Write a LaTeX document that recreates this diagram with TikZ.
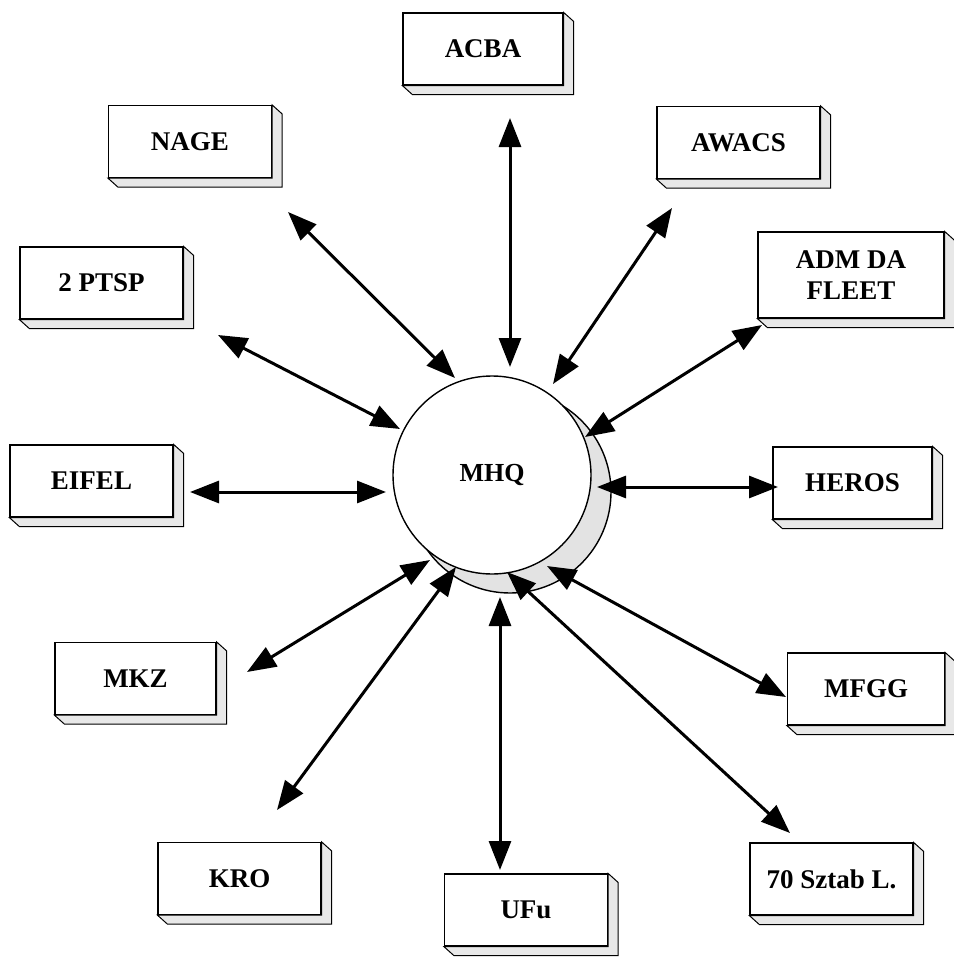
\documentclass[tikz,border=0pt]{standalone}
\usepackage{fontspec}
\setmainfont{Liberation Serif}
\usetikzlibrary{arrows.meta}

\begin{document}
\begin{tikzpicture}[x=1pt,y=-1pt,
  unitbox/.style={draw, line width=1.2pt, fill=white, minimum width=163pt,
    minimum height=72pt, inner sep=2pt, align=center,
    font=\fontsize{27}{31}\selectfont\bfseries},
  sideface/.style={draw, line width=1pt, fill=gray!18},
  link/.style={line width=3pt, {Triangle[length=29pt,width=22pt]}-{Triangle[length=29pt,width=22pt]}},
  hub/.style={draw, line width=1.4pt, fill=white, circle, minimum size=198pt,
    inner sep=0pt, font=\fontsize{26}{30}\selectfont\bfseries}]

\useasboundingbox (0,0) rectangle (953,966);

% shaded crescent behind the hub
\draw[line width=1.4pt, fill=gray!22] (510,492) circle[radius=101];
\node[hub] (mhq) at (492,475) {MHQ};

% outer units
\node[unitbox, minimum width=160pt] (acba) at (483,49) {ACBA};
\node[unitbox] (nage)  at (190,141.5) {NAGE};
\node[unitbox] (awacs) at (738.5,142.5) {AWACS};
\node[unitbox] (ptsp)  at (101.5,283) {2 PTSP};
\node[unitbox, minimum width=186pt, minimum height=86pt] (adm) at (851,275) {ADM DA\\FLEET};
\node[unitbox] (eifel) at (91.5,481) {EIFEL};
\node[unitbox, minimum width=159pt] (heros) at (852.5,483) {HEROS};
\node[unitbox, minimum width=161pt] (mkz)   at (135.5,678.5) {MKZ};
\node[unitbox, minimum width=157pt] (mfgg)  at (866,689) {MFGG};
\node[unitbox] (kro)   at (239.5,878.5) {KRO};
\node[unitbox] (ufu)   at (526,910) {UFu};
\node[unitbox] (sztab) at (831.5,879) {70 Sztab L.};

% depth faces of the units
\foreach \b in {acba,nage,awacs,ptsp,adm,eifel,heros,mkz,mfgg,kro,ufu,sztab}{
  \draw[sideface] (\b.north east) -- ++(10,9) |- ([shift={(10,9)}]\b.south west)
    -- (\b.south west) -- (\b.south east) -- cycle;
}

% arrow end points
\coordinate (a1) at (510,118); \coordinate (h1) at (510,367);
\coordinate (a2) at (288,212); \coordinate (h2) at (455,378);
\coordinate (a3) at (672,208); \coordinate (h3) at (553,384);
\coordinate (a4) at (218,335); \coordinate (h4) at (400,429);
\coordinate (a5) at (762,325); \coordinate (h5) at (585,437);
\coordinate (a6) at (190,492); \coordinate (h6) at (386,492);
\coordinate (a7) at (778,487); \coordinate (h7) at (597,487);
\coordinate (a8) at (247,672); \coordinate (h8) at (430,560);
\coordinate (a9) at (786,697); \coordinate (h9) at (547,566);
\coordinate (a10) at (277,810); \coordinate (h10) at (456,567);
\coordinate (a11) at (500,870); \coordinate (h11) at (500,597);
\coordinate (a12) at (790,833); \coordinate (h12) at (507,572);

\foreach \i in {1,...,12}{
  \draw[link] (a\i) -- (h\i);
}
\end{tikzpicture}
\end{document}
